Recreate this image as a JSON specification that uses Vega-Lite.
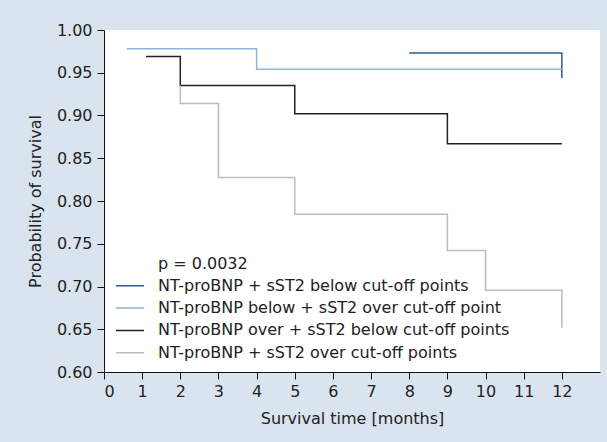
{
  "$schema": "https://vega.github.io/schema/vega-lite/v6.json",
  "width": 496,
  "height": 342,
  "autosize": {"type": "none"},
  "padding": {"left": 104, "top": 30, "right": 7, "bottom": 70},
  "background": "#dae4ef",
  "config": {
    "view": {"fill": "white", "stroke": null},
    "font": "DejaVu Sans",
    "axis": {
      "labelFont": "DejaVu Sans",
      "titleFont": "DejaVu Sans",
      "labelFontSize": 16,
      "titleFontSize": 16,
      "labelColor": "#222222",
      "titleColor": "#222222",
      "titleFontWeight": "normal",
      "domainColor": "#111111",
      "tickColor": "#111111",
      "domainWidth": 1,
      "tickWidth": 1,
      "tickSize": 7,
      "grid": false
    }
  },
  "data": {
    "values": [
      {"group": "NT-proBNP + sST2 below cut-off points", "t": 8, "s": 0.973},
      {"group": "NT-proBNP + sST2 below cut-off points", "t": 12, "s": 0.973},
      {"group": "NT-proBNP + sST2 below cut-off points", "t": 12, "s": 0.944},
      {"group": "NT-proBNP below + sST2 over cut-off point", "t": 0.6, "s": 0.978},
      {"group": "NT-proBNP below + sST2 over cut-off point", "t": 4, "s": 0.954},
      {"group": "NT-proBNP below + sST2 over cut-off point", "t": 12, "s": 0.954},
      {"group": "NT-proBNP over + sST2 below cut-off points", "t": 1.1, "s": 0.969},
      {"group": "NT-proBNP over + sST2 below cut-off points", "t": 2, "s": 0.935},
      {"group": "NT-proBNP over + sST2 below cut-off points", "t": 5, "s": 0.902},
      {"group": "NT-proBNP over + sST2 below cut-off points", "t": 9, "s": 0.867},
      {"group": "NT-proBNP over + sST2 below cut-off points", "t": 12, "s": 0.867},
      {"group": "NT-proBNP + sST2 over cut-off points", "t": 2, "s": 0.935},
      {"group": "NT-proBNP + sST2 over cut-off points", "t": 2, "s": 0.914},
      {"group": "NT-proBNP + sST2 over cut-off points", "t": 3, "s": 0.8275},
      {"group": "NT-proBNP + sST2 over cut-off points", "t": 5, "s": 0.7846},
      {"group": "NT-proBNP + sST2 over cut-off points", "t": 9, "s": 0.742},
      {"group": "NT-proBNP + sST2 over cut-off points", "t": 10, "s": 0.6957},
      {"group": "NT-proBNP + sST2 over cut-off points", "t": 12, "s": 0.6957},
      {"group": "NT-proBNP + sST2 over cut-off points", "t": 12, "s": 0.6517}
    ]
  },
  "mark": {"type": "line", "interpolate": "step-after", "strokeWidth": 1.5},
  "encoding": {
    "x": {
      "field": "t",
      "type": "quantitative",
      "title": "Survival time [months]",
      "scale": {"domain": [0, 13], "nice": false, "zero": false},
      "axis": {"values": [0,1,2,3,4,5,6,7,8,9,10,11,12], "format": "d", "labelPadding": 4, "titlePadding": 11}
    },
    "y": {
      "field": "s",
      "type": "quantitative",
      "title": "Probability of survival",
      "scale": {"domain": [0.6, 1.0], "nice": false, "zero": false},
      "axis": {"values": [0.6,0.65,0.7,0.75,0.8,0.85,0.9,0.95,1.0], "format": ".2f", "labelPadding": 5, "titlePadding": 13}
    },
    "color": {
      "field": "group",
      "type": "nominal",
      "scale": {
        "domain": ["p = 0.0032", "NT-proBNP + sST2 below cut-off points", "NT-proBNP below + sST2 over cut-off point", "NT-proBNP over + sST2 below cut-off points", "NT-proBNP + sST2 over cut-off points"],
        "range": ["rgba(0,0,0,0)", "#2a5b99", "#8fb3d9", "#222222", "#bdbdbd"]
      },
      "legend": {
        "title": null,
        "orient": "none",
        "legendX": 11,
        "legendY": 225,
        "padding": 0,
        "symbolType": "stroke",
        "symbolSize": 784,
        "symbolStrokeWidth": 1.5,
        "clipHeight": 17,
        "rowPadding": 5.3,
        "labelOffset": 13,
        "labelFont": "DejaVu Sans",
        "labelFontSize": 16,
        "labelColor": "#222222",
        "labelLimit": 400
      }
    }
  }
}
